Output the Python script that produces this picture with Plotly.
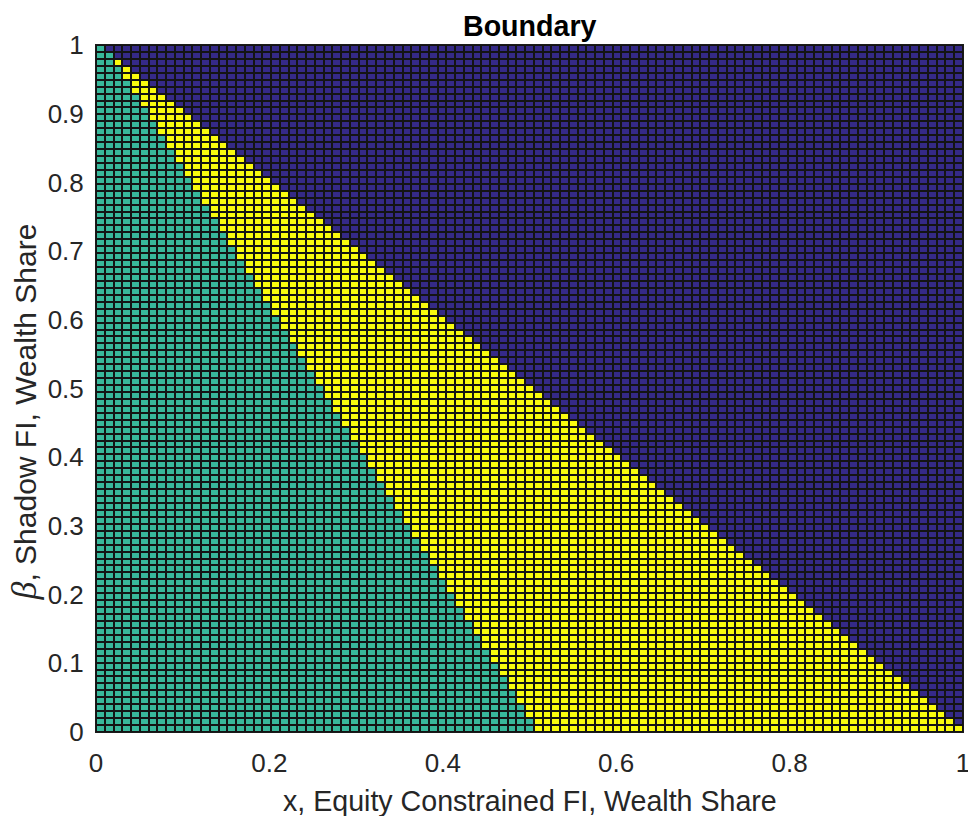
import numpy as np
import plotly.graph_objects as go

# ---- data ----
# grid nodes (pcolor style: 100 nodes per axis -> 99 x 99 cells)
x_nodes = np.linspace(0.0, 1.0, 100)
beta_nodes = np.linspace(0.0, 1.0, 100)

# region boundaries (x position of the boundary as a function of beta)
green_edge_beta = [0.0, 1.0]
green_edge_x = [0.5, 0.0]      # left region (green) : x <= this
blue_edge_beta = [0.0, 1.0]
blue_edge_x = [1.0, 0.0]       # right region (blue) : x >= this

region_codes = {"blue": 0, "green": 1, "yellow": 2}
region_colors = ["#352a87", "#38b89b", "#f9fb0e"]

x_ticks = [0, 0.2, 0.4, 0.6, 0.8, 1]
x_tick_text = ["0", "0.2", "0.4", "0.6", "0.8", "1"]
y_ticks = [0, 0.1, 0.2, 0.3, 0.4, 0.5, 0.6, 0.7, 0.8, 0.9, 1]
y_tick_text = ["0", "0.1", "0.2", "0.3", "0.4", "0.5", "0.6", "0.7", "0.8", "0.9", "1"]

# ---- classify cells (value at lower-left node, like MATLAB pcolor) ----
eps = 1e-9
z = np.zeros((len(beta_nodes) - 1, len(x_nodes) - 1))
for j, b in enumerate(beta_nodes[:-1]):
    gx = np.interp(b, green_edge_beta, green_edge_x)
    bx = np.interp(b, blue_edge_beta, blue_edge_x)
    for i, xv in enumerate(x_nodes[:-1]):
        if xv <= gx + eps:
            z[j, i] = region_codes["green"]
        elif xv >= bx - eps:
            z[j, i] = region_codes["blue"]
        else:
            z[j, i] = region_codes["yellow"]

colorscale = [[0.0, region_colors[0]], [0.5, region_colors[1]], [1.0, region_colors[2]]]

fig = go.Figure(go.Heatmap(
    x=x_nodes, y=beta_nodes, z=z,
    zmin=0, zmax=2, colorscale=colorscale, showscale=False,
    xgap=2, ygap=2, hoverinfo="skip",
))

FONT = "Liberation Sans, Arial, Helvetica, sans-serif"
TXT = "#262626"

fig.update_layout(
    width=968, height=816,
    margin=dict(l=96, r=5, t=45, b=84, autoexpand=False),
    paper_bgcolor="white", plot_bgcolor="#141414",
    font=dict(family=FONT, size=26, color=TXT),
    showlegend=False,
)
fig.update_xaxes(
    range=[0, 1], tickvals=x_ticks, ticktext=x_tick_text,
    ticks="", showgrid=False, zeroline=False, automargin=False,
    ticklabeloverflow="allow",
    showline=True, linecolor="#1a1a1a", linewidth=1, mirror=True,
    tickfont=dict(size=26, color=TXT, family=FONT),
    ticklabelstandoff=8,
)
fig.update_yaxes(
    range=[0, 1], tickvals=y_ticks, ticktext=y_tick_text,
    ticks="", showgrid=False, zeroline=False, automargin=False,
    ticklabeloverflow="allow",
    showline=True, linecolor="#1a1a1a", linewidth=1, mirror=True,
    tickfont=dict(size=26, color=TXT, family=FONT),
    ticklabelstandoff=6,
)

fig.add_annotation(
    text="<b>Boundary</b>", xref="paper", yref="paper", x=0.5, y=1,
    xanchor="center", yanchor="middle", yshift=19, showarrow=False,
    font=dict(family=FONT, size=28.6, color="black"),
)
fig.add_annotation(
    text="x, Equity Constrained FI, Wealth Share", xref="paper", yref="paper",
    x=0.5, y=0, xanchor="center", yanchor="middle", yshift=-69, showarrow=False,
    font=dict(family=FONT, size=28.6, color=TXT),
)
fig.add_annotation(
    text="<span style=\"font-family:'Liberation Serif', serif;font-size:36px\"><i>β</i></span>, Shadow FI, Wealth Share",
    xref="paper", yref="paper", x=0, y=0.465, xanchor="center", yanchor="middle",
    xshift=-72, textangle=-90, showarrow=False,
    font=dict(family=FONT, size=30, color=TXT),
)

fig.write_html(
    "out.html",
    config={"displayModeBar": False},
    post_script="document.body.style.margin='0';document.body.style.overflow='hidden';",
)
